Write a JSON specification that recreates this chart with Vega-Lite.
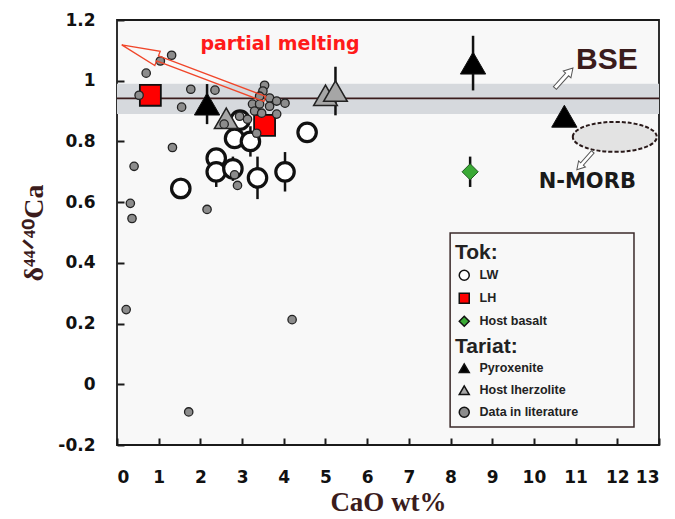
{
  "$schema": "https://vega.github.io/schema/vega-lite/v6.json",
  "width": 542,
  "height": 425,
  "autosize": "none",
  "padding": {"left": 117, "top": 20, "right": 16, "bottom": 74},
  "background": "white",
  "data": {"values": [{}]},
  "config": {
    "view": {"fill": "#f8f8f8", "stroke": "#1a1a1a", "strokeWidth": 1.8},
    "axis": {"grid": false, "domain": false, "ticks": true, "zindex": 1, "tickColor": "#1a1a1a", "tickWidth": 2, "tickSize": 7, "offset": -7, "labelFont": "DejaVu Sans", "labelFontWeight": "bold", "labelFontSize": 17, "labelColor": "#111", "titleFont": "Liberation Serif", "titleFontWeight": "bold", "titleColor": "#3b1c1c"},
    "axisX": {"labelPadding": 24, "titleFontSize": 27, "titlePadding": 4},
    "axisY": {"labelPadding": 22, "titleFontSize": 28}
  },
  "datasets": {
    "pts": [
      {"group": "LW", "x": 1.53, "y": 0.645, "lo": 0.61, "hi": 0.68},
      {"group": "LW", "x": 2.38, "y": 0.745, "lo": 0.715, "hi": 0.775},
      {"group": "LW", "x": 2.38, "y": 0.70, "lo": 0.65, "hi": 0.75},
      {"group": "LW", "x": 2.82, "y": 0.81, "lo": 0.78, "hi": 0.84},
      {"group": "LW", "x": 2.78, "y": 0.71, "lo": 0.67, "hi": 0.75},
      {"group": "LW", "x": 2.95, "y": 0.87, "lo": 0.84, "hi": 0.90},
      {"group": "LW", "x": 3.2, "y": 0.80, "lo": 0.75, "hi": 0.85},
      {"group": "LW", "x": 3.37, "y": 0.68, "lo": 0.61, "hi": 0.75},
      {"group": "LW", "x": 4.03, "y": 0.70, "lo": 0.635, "hi": 0.765},
      {"group": "LW", "x": 4.56, "y": 0.83, "lo": 0.81, "hi": 0.85},
      {"group": "LH", "x": 0.80, "y": 0.952, "lo": 0.92, "hi": 0.985},
      {"group": "LH", "x": 3.54, "y": 0.853, "lo": 0.82, "hi": 0.885},
      {"group": "Host basalt", "x": 8.47, "y": 0.70, "lo": 0.65, "hi": 0.75},
      {"group": "Pyroxenite", "x": 8.54, "y": 1.058, "lo": 0.968, "hi": 1.148},
      {"group": "Pyroxenite", "x": 2.16, "y": 0.923, "lo": 0.857, "hi": 0.989},
      {"group": "Pyroxenite", "x": 10.73, "y": 0.883, "lo": 0.87, "hi": 0.896},
      {"group": "Host lherzolite", "x": 2.62, "y": 0.876, "lo": 0.85, "hi": 0.90},
      {"group": "Host lherzolite", "x": 5.0, "y": 0.952, "lo": 0.94, "hi": 0.965},
      {"group": "Host lherzolite", "x": 5.24, "y": 0.966, "lo": 0.886, "hi": 1.046}
    ],
    "lit": [
      {"group": "Data in literature", "x": 1.31, "y": 1.084},
      {"group": "Data in literature", "x": 1.04, "y": 1.065},
      {"group": "Data in literature", "x": 0.70, "y": 1.025},
      {"group": "Data in literature", "x": 0.53, "y": 0.952},
      {"group": "Data in literature", "x": 1.77, "y": 0.972},
      {"group": "Data in literature", "x": 1.55, "y": 0.913},
      {"group": "Data in literature", "x": 2.35, "y": 0.969},
      {"group": "Data in literature", "x": 1.33, "y": 0.78},
      {"group": "Data in literature", "x": 0.41, "y": 0.718},
      {"group": "Data in literature", "x": 0.32, "y": 0.596},
      {"group": "Data in literature", "x": 0.36, "y": 0.546},
      {"group": "Data in literature", "x": 2.16, "y": 0.576},
      {"group": "Data in literature", "x": 2.82, "y": 0.69},
      {"group": "Data in literature", "x": 2.89, "y": 0.655},
      {"group": "Data in literature", "x": 3.13, "y": 0.873},
      {"group": "Data in literature", "x": 2.57, "y": 0.857},
      {"group": "Data in literature", "x": 3.54, "y": 0.985},
      {"group": "Data in literature", "x": 3.50, "y": 0.966},
      {"group": "Data in literature", "x": 3.42, "y": 0.949},
      {"group": "Data in literature", "x": 3.66, "y": 0.943},
      {"group": "Data in literature", "x": 3.25, "y": 0.923},
      {"group": "Data in literature", "x": 3.42, "y": 0.923},
      {"group": "Data in literature", "x": 3.30, "y": 0.90},
      {"group": "Data in literature", "x": 3.47, "y": 0.893},
      {"group": "Data in literature", "x": 3.66, "y": 0.916},
      {"group": "Data in literature", "x": 3.83, "y": 0.933},
      {"group": "Data in literature", "x": 4.03, "y": 0.926},
      {"group": "Data in literature", "x": 3.83, "y": 0.89},
      {"group": "Data in literature", "x": 2.94, "y": 0.883},
      {"group": "Data in literature", "x": 3.35, "y": 0.827},
      {"group": "Data in literature", "x": 0.22, "y": 0.246},
      {"group": "Data in literature", "x": 4.2, "y": 0.213},
      {"group": "Data in literature", "x": 1.72, "y": -0.091}
    ]
  },
  "layer": [
    {
      "mark": {"type": "rect", "fill": "#d6d9dd"},
      "encoding": {
        "x": {"datum": 0, "type": "quantitative", "scale": {"domain": [0, 13], "nice": false, "zero": false}, "axis": {"title": "CaO wt%", "values": [0,1,2,3,4,5,6,7,8,9,10,11,12,13], "labelFont": "DejaVu Sans", "labelFontWeight": "bold", "labelFontSize": 17, "ticks": true, "tickSize": 7, "offset": -7, "zindex": 1}},
        "x2": {"datum": 13},
        "y": {"datum": 0.89, "type": "quantitative", "scale": {"domain": [-0.2, 1.2], "nice": false, "zero": false}, "axis": {"title": "δ⁴⁴ᐟ⁴⁰Ca", "values": [-0.2,0,0.2,0.4,0.6,0.8,1,1.2], "format": "~g", "labelExpr": "replace(datum.label, '−', '-')", "titleX": -76, "labelFont": "DejaVu Sans", "labelFontWeight": "bold", "labelFontSize": 17, "ticks": true, "tickSize": 7, "offset": -7, "zindex": 1}},
        "y2": {"datum": 0.99}
      }
    },
    {
      "mark": {"type": "rule", "color": "#3b1c1c", "strokeWidth": 1.8},
      "encoding": {
        "y": {"datum": 0.942, "type": "quantitative", "scale": {"domain": [-0.2, 1.2], "nice": false, "zero": false}}
      }
    },
    {
      "data": {"name": "pts"},
      "mark": {"type": "rule", "color": "#111", "strokeWidth": 2.5},
      "encoding": {
        "x": {"field": "x", "type": "quantitative", "scale": {"domain": [0, 13], "nice": false, "zero": false}},
        "y": {"field": "lo", "type": "quantitative", "scale": {"domain": [-0.2, 1.2], "nice": false, "zero": false}},
        "y2": {"field": "hi"}
      }
    },
    {
      "data": {"name": "pts"},
      "transform": [{"filter": "datum.group === 'LW' || datum.group === 'LH' || datum.group === 'Host basalt'"}],
      "encoding": {
        "x": {"field": "x", "type": "quantitative", "scale": {"domain": [0, 13], "nice": false, "zero": false}},
        "y": {"field": "y", "type": "quantitative", "scale": {"domain": [-0.2, 1.2], "nice": false, "zero": false}},
        "shape": {"field": "group", "type": "nominal", "scale": {"domain": ["LW", "LH", "Host basalt"], "range": ["circle", "square", "diamond"]},
          "legend": {"title": "Tok:", "orient": "none", "legendX": 338, "legendY": 222, "padding": 0, "titleFont": "Liberation Sans", "titleFontSize": 21, "titleFontWeight": "bold", "titleColor": "#222", "titlePadding": 6, "labelFont": "Liberation Sans", "labelFontSize": 12.5, "labelFontWeight": "bold", "labelColor": "#222", "symbolOffset": 3, "labelOffset": 9, "rowPadding": 6,
            "encode": {"symbols": {"update": {"size": {"signal": "datum.value === 'LW' ? 55 : datum.value === 'LH' ? 130 : 80"}, "strokeWidth": {"signal": "datum.value === 'LW' ? 3.2 : datum.value === 'LH' ? 1.5 : 0.8"}, "stroke": {"signal": "datum.value === 'Host basalt' ? '#1e5a1e' : '#111'"}, "opacity": {"value": 1}}}}}},
        "fill": {"field": "group", "type": "nominal", "scale": {"domain": ["LW", "LH", "Host basalt"], "range": ["#ffffff", "#ff0000", "#3aaa35"]},
          "legend": {"title": "Tok:", "orient": "none", "legendX": 338, "legendY": 222}}
      },
      "layer": [
        {"transform": [{"filter": "datum.group === 'LW'"}], "mark": {"type": "point", "filled": true, "opacity": 1, "size": 340, "stroke": "#111", "strokeWidth": 3.2}},
        {"transform": [{"filter": "datum.group === 'LH'"}], "mark": {"type": "point", "filled": true, "opacity": 1, "size": 440, "stroke": "#111", "strokeWidth": 1.8}},
        {"transform": [{"filter": "datum.group === 'Host basalt'"}], "mark": {"type": "point", "filled": true, "opacity": 1, "size": 260, "stroke": "#1e5a1e", "strokeWidth": 1}}
      ]
    },
    {
      "layer": [
        {"data": {"name": "pts"}, "transform": [{"filter": "datum.group === 'Pyroxenite'"}], "mark": {"type": "point", "filled": true, "opacity": 1, "size": 640, "stroke": "#111", "strokeWidth": 1}},
        {"data": {"name": "pts"}, "transform": [{"filter": "datum.group === 'Host lherzolite'"}], "mark": {"type": "point", "filled": true, "opacity": 1, "size": 560, "stroke": "#222", "strokeWidth": 1.5}},
        {"data": {"name": "lit"}, "mark": {"type": "point", "filled": true, "opacity": 1, "size": 70, "stroke": "#222", "strokeWidth": 1.3}}
      ],
      "encoding": {
        "x": {"field": "x", "type": "quantitative", "scale": {"domain": [0, 13], "nice": false, "zero": false}},
        "y": {"field": "y", "type": "quantitative", "scale": {"domain": [-0.2, 1.2], "nice": false, "zero": false}},
        "shape": {"field": "group", "type": "nominal", "scale": {"domain": ["Pyroxenite", "Host lherzolite", "Data in literature"], "range": ["triangle-up", "triangle-up", "circle"]},
          "legend": {"title": "Tariat:", "orient": "none", "legendX": 338, "legendY": 316, "padding": 0, "titleFont": "Liberation Sans", "titleFontSize": 21, "titleFontWeight": "bold", "titleColor": "#222", "titlePadding": 5, "labelFont": "Liberation Sans", "labelFontSize": 12.5, "labelFontWeight": "bold", "labelColor": "#222", "symbolOffset": 3, "labelOffset": 9, "rowPadding": 6,
            "encode": {"symbols": {"update": {"size": {"signal": "datum.value === 'Data in literature' ? 28 : 170"}, "strokeWidth": {"signal": "datum.value === 'Data in literature' ? 0.8 : 1.2"}, "stroke": {"value": "#222"}, "opacity": {"value": 1}}}}}},
        "fill": {"field": "group", "type": "nominal", "scale": {"domain": ["Pyroxenite", "Host lherzolite", "Data in literature"], "range": ["#000000", "#a6a6a6", "#8c8c8c"]},
          "legend": {"title": "Tariat:", "orient": "none", "legendX": 338, "legendY": 316}}
      }
    },
    {
      "mark": {"type": "rect", "fill": null, "fillOpacity": 0, "stroke": "#3b2a2a", "strokeWidth": 1.5},
      "encoding": {
        "x": {"datum": 7.99, "type": "quantitative", "scale": {"domain": [0, 13], "nice": false, "zero": false}},
        "x2": {"datum": 12.4},
        "y": {"datum": 0.498, "type": "quantitative", "scale": {"domain": [-0.2, 1.2], "nice": false, "zero": false}},
        "y2": {"datum": -0.141}
      }
    },
    {
      "mark": {"type": "point", "shape": "M-1,0C-1,-0.197,-0.552,-0.357,0,-0.357C0.552,-0.357,1,-0.197,1,0C1,0.197,0.552,0.357,0,0.357C-0.552,0.357,-1,0.197,-1,0Z", "size": 7056, "filled": true, "fill": "#e3e3e3", "opacity": 1, "stroke": "#2a1a1a", "strokeWidth": 2, "strokeDash": [4, 2]},
      "encoding": {
        "x": {"datum": 11.94, "type": "quantitative", "scale": {"domain": [0, 13], "nice": false, "zero": false}},
        "y": {"datum": 0.815, "type": "quantitative", "scale": {"domain": [-0.2, 1.2], "nice": false, "zero": false}}
      }
    },
    {
      "mark": {"type": "point", "shape": "M0,-1L0.1,-0.5L0.035,-0.5L0.035,1L-0.035,1L-0.035,-0.5L-0.1,-0.5Z", "size": 23409, "angle": 290.7, "filled": false, "opacity": 1, "stroke": "#f0462a", "strokeWidth": 1.3},
      "encoding": {
        "x": {"datum": 1.83, "type": "quantitative", "scale": {"domain": [0, 13], "nice": false, "zero": false}},
        "y": {"datum": 1.029, "type": "quantitative", "scale": {"domain": [-0.2, 1.2], "nice": false, "zero": false}}
      }
    },
    {
      "mark": {"type": "point", "shape": "M0,-1L0.38,-0.35L0.15,-0.35L0.15,1L-0.15,1L-0.15,-0.35L-0.38,-0.35Z", "size": 729, "angle": 42, "filled": true, "fill": "#ffffff", "opacity": 1, "stroke": "#555", "strokeWidth": 1},
      "encoding": {
        "x": {"datum": 10.72, "type": "quantitative", "scale": {"domain": [0, 13], "nice": false, "zero": false}},
        "y": {"datum": 1.009, "type": "quantitative", "scale": {"domain": [-0.2, 1.2], "nice": false, "zero": false}}
      }
    },
    {
      "mark": {"type": "point", "shape": "M0,-1L0.38,-0.35L0.15,-0.35L0.15,1L-0.15,1L-0.15,-0.35L-0.38,-0.35Z", "size": 576, "angle": 221.6, "filled": true, "fill": "#ffffff", "opacity": 1, "stroke": "#555", "strokeWidth": 1},
      "encoding": {
        "x": {"datum": 11.22, "type": "quantitative", "scale": {"domain": [0, 13], "nice": false, "zero": false}},
        "y": {"datum": 0.736, "type": "quantitative", "scale": {"domain": [-0.2, 1.2], "nice": false, "zero": false}}
      }
    },
    {
      "mark": {"type": "text", "text": "partial melting", "font": "DejaVu Sans", "fontWeight": "bold", "fontSize": 19, "color": "#ff1a1a"},
      "encoding": {
        "x": {"datum": 3.91, "type": "quantitative", "scale": {"domain": [0, 13], "nice": false, "zero": false}},
        "y": {"datum": 1.121, "type": "quantitative", "scale": {"domain": [-0.2, 1.2], "nice": false, "zero": false}}
      }
    },
    {
      "mark": {"type": "text", "text": "BSE", "font": "Liberation Sans", "fontWeight": "bold", "fontSize": 30, "color": "#3b1c1c"},
      "encoding": {
        "x": {"datum": 11.75, "type": "quantitative", "scale": {"domain": [0, 13], "nice": false, "zero": false}},
        "y": {"datum": 1.068, "type": "quantitative", "scale": {"domain": [-0.2, 1.2], "nice": false, "zero": false}}
      }
    },
    {
      "mark": {"type": "text", "text": "N-MORB", "font": "DejaVu Sans", "fontWeight": "bold", "fontSize": 21, "color": "#1a1a1a"},
      "encoding": {
        "x": {"datum": 11.28, "type": "quantitative", "scale": {"domain": [0, 13], "nice": false, "zero": false}},
        "y": {"datum": 0.667, "type": "quantitative", "scale": {"domain": [-0.2, 1.2], "nice": false, "zero": false}}
      }
    }
  ],
  "resolve": {"scale": {"shape": "independent", "fill": "independent"}}
}
